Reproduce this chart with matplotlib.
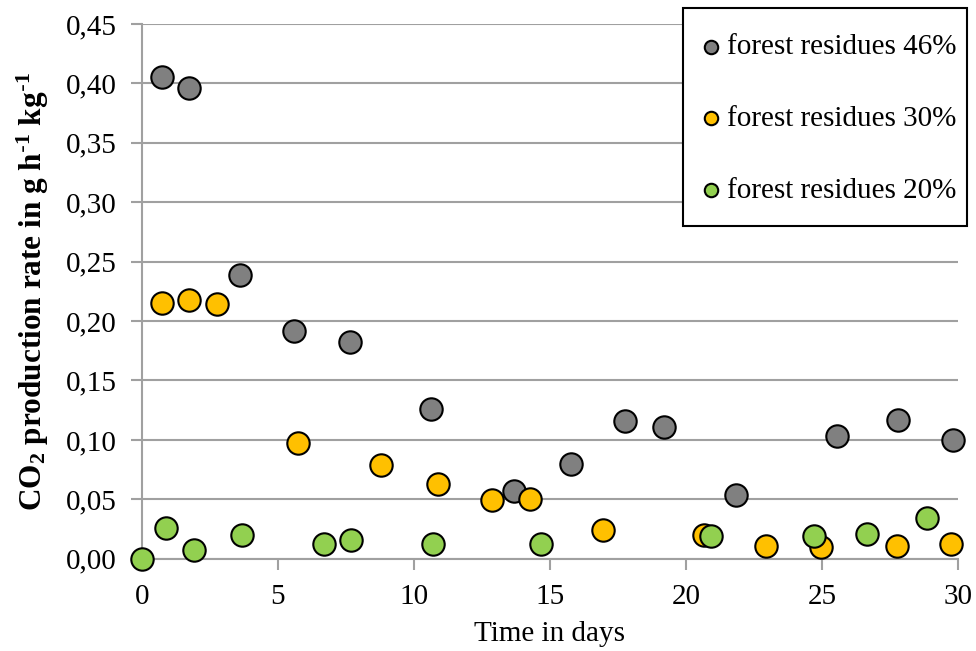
import matplotlib.pyplot as plt
from matplotlib.patches import Rectangle
from matplotlib.ticker import FuncFormatter, MultipleLocator

plt.rcParams['font.family'] = ['Liberation Serif', 'DejaVu Serif']
plt.rcParams['mathtext.default'] = 'regular'

# Data
days_46 = [0.72, 1.71, 3.61, 5.59, 7.65, 10.62, 13.66, 15.79, 17.77, 19.2, 21.84, 25.54, 27.8, 29.8]
rate_46 = [0.405, 0.396, 0.239, 0.192, 0.182, 0.126, 0.057, 0.080, 0.116, 0.111, 0.054, 0.103, 0.117, 0.100]

days_30 = [0.72, 1.71, 2.77, 5.74, 8.78, 10.87, 12.85, 14.28, 16.96, 20.66, 22.94, 24.95, 27.77, 29.76]
rate_30 = [0.215, 0.218, 0.214, 0.097, 0.079, 0.063, 0.049, 0.050, 0.024, 0.020, 0.011, 0.010, 0.011, 0.012]

days_20 = [0.0, 0.9, 1.92, 3.68, 6.69, 7.68, 10.69, 14.68, 20.91, 24.69, 26.67, 28.87]
rate_20 = [0.000, 0.026, 0.007, 0.020, 0.012, 0.016, 0.012, 0.012, 0.019, 0.019, 0.021, 0.034]

series = [
    (days_46, rate_46, '#808080', 'forest residues 46%'),
    (days_30, rate_30, '#FFC000', 'forest residues 30%'),
    (days_20, rate_20, '#92D050', 'forest residues 20%'),
]

W, H = 976, 651
fig = plt.figure(figsize=(W / 100, H / 100), dpi=100)
ax = fig.add_axes([142/W, 1 - 558.7/H, (958 - 142)/W, (558.7 - 24)/H])

for x, y, col, lab in series:
    ax.scatter(x, y, s=260, c=col, edgecolors='black', linewidths=1.5,
               label=lab, zorder=3, clip_on=False)

ax.set_xlim(0, 30)
ax.set_ylim(0, 0.45)
ax.xaxis.set_major_locator(MultipleLocator(5))
ax.yaxis.set_major_locator(MultipleLocator(0.05))
ax.yaxis.set_major_formatter(FuncFormatter(lambda v, p: f'{v:.2f}'.replace('.', ',')))

ax.grid(axis='y', color='#A0A0A0', linewidth=1.5, zorder=0)
ax.set_axisbelow(True)
for s in ['top', 'right']:
    ax.spines[s].set_visible(False)
for s in ['left', 'bottom']:
    ax.spines[s].set_color('#A0A0A0')
    ax.spines[s].set_linewidth(1.5)
ax.tick_params(axis='both', colors='#A0A0A0', labelcolor='black', labelsize=21,
               width=1.5, length=8)
ax.tick_params(axis='x', pad=10)
ax.tick_params(axis='y', pad=10)

ax.set_xlabel('Time in days', fontsize=21, labelpad=8)
ax.set_ylabel(r'CO$_{2}$ production rate in g h$^{\text{-}1}$ kg$^{\text{-}1}$', fontsize=22.5,
              fontweight='bold', labelpad=11)

# legend box drawn separately so its padding can match the original
fig.patches.append(Rectangle((683/W, 1 - 226/H), (967 - 683)/W, (226 - 8)/H,
                             transform=fig.transFigure, facecolor='white',
                             edgecolor='black', linewidth=1.5, zorder=5))
leg = fig.legend(loc='upper left', bbox_to_anchor=(698/W, 1 - 34/H),
                 fontsize=21, frameon=False, markerscale=0.6,
                 labelspacing=1.55, handletextpad=0.1, borderpad=0,
                 handlelength=0.9, borderaxespad=0)
leg.set_zorder(6)

fig.savefig('out.png', dpi=100)
